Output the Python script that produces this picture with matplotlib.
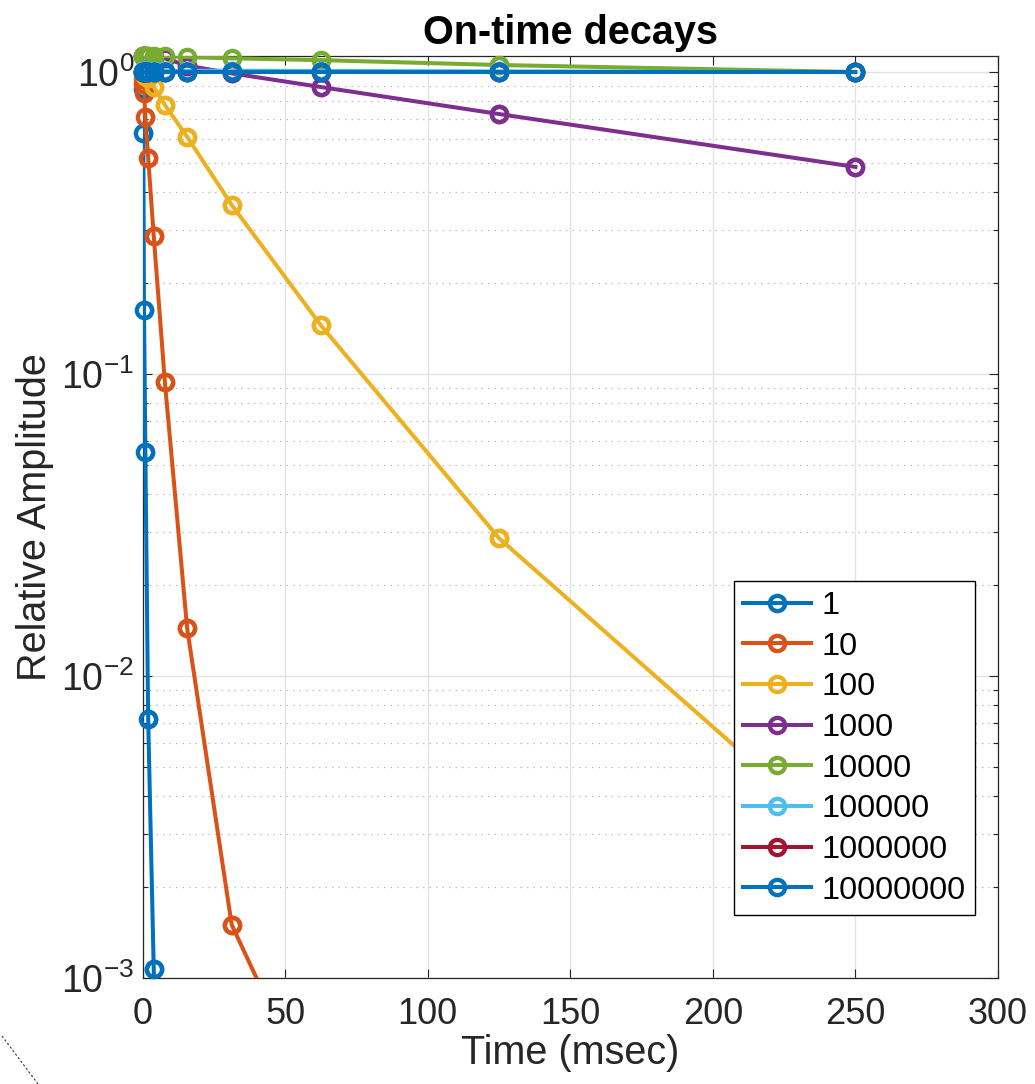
import matplotlib
matplotlib.use('Agg')
import matplotlib.pyplot as plt
import numpy as np
from matplotlib.ticker import LogLocator, NullFormatter, NullLocator
from matplotlib.lines import Line2D

plt.rcParams['font.family'] = ['Liberation Sans', 'DejaVu Sans']
plt.rcParams['mathtext.fontset'] = 'custom'
plt.rcParams['mathtext.rm'] = 'Liberation Sans'
plt.rcParams['mathtext.it'] = 'Liberation Sans:italic'
plt.rcParams['mathtext.bf'] = 'Liberation Sans:bold'

# ---------------- data ----------------
time_ms = [0.1220703125, 0.244140625, 0.48828125, 0.9765625, 1.953125, 3.90625,
           7.8125, 15.625, 31.25, 62.5, 125.0, 250.0]

amp_1 = [0.88, 0.63, 0.163, 0.055, 0.0072, 0.00107, 1e-5, 1e-7, 1e-9, 1e-11, 1e-13, 1e-15]
amp_10 = [0.95, 0.91, 0.85, 0.71, 0.52, 0.287, 0.094, 0.0144, 0.0015, 3.5e-4, 1e-6, 1e-9]
amp_100 = [1.0, 0.995, 0.985, 0.97, 0.955, 0.894, 0.778, 0.61, 0.363, 0.145, 0.0286, 0.0026]
amp_1000 = [1.13, 1.13, 1.13, 1.13, 1.13, 1.125, 1.11, 1.05, 0.99, 0.892, 0.726, 0.485]
amp_10000 = [1.13, 1.13, 1.13, 1.13, 1.13, 1.13, 1.13, 1.12, 1.11, 1.095, 1.055, 1.0]
amp_100000 = [1.01, 1.01, 1.01, 1.01, 1.01, 1.01, 1.01, 1.01, 1.01, 1.008, 1.005, 1.0]
amp_1000000 = [1.0, 1.0, 1.0, 1.0, 1.0, 1.0, 1.0, 1.0, 1.0, 1.0, 1.0, 1.0]
amp_10000000 = [1.0, 1.0, 1.0, 1.0, 1.0, 1.0, 1.0, 1.0, 1.0, 1.0, 1.0, 1.0]

series_labels = ['1', '10', '100', '1000', '10000', '100000', '1000000', '10000000']
series_values = [amp_1, amp_10, amp_100, amp_1000, amp_10000, amp_100000,
                 amp_1000000, amp_10000000]
series_colors = ['#0072BD', '#D95319', '#EDB120', '#7E2F8E', '#77AC30',
                 '#4DBEEE', '#A2142F', '#0072BD']

x_ticks = [0, 50, 100, 150, 200, 250, 300]
y_ticks = [1e-3, 1e-2, 1e-1, 1e0]
y_tick_labels = [r'$\mathregular{10^{-3}}$', r'$\mathregular{10^{-2}}$',
                 r'$\mathregular{10^{-1}}$', r'$\mathregular{10^{0}}$']
x_limits = (0, 300)
y_limits = (1e-3, 1.13)

title_text = 'On-time decays'
x_label = 'Time (msec)'
y_label = 'Relative Amplitude'

# ---------------- figure ----------------
W, H = 1035, 1084
fig = plt.figure(figsize=(W / 100, H / 100), dpi=100)
left, right, bottom, top = 142.6, 998, 978, 56
ax = fig.add_axes([left / W, 1 - bottom / H, (right - left) / W, (bottom - top) / H])

axis_col = '#262626'
lw = 2.9
ms = 11
mew = 3.1
t = np.array(time_ms)
for i, (lab, vals, col) in enumerate(zip(series_labels, series_values, series_colors)):
    v = np.array(vals)
    ax.plot(t, v, '-o', color=col, lw=lw, ms=ms, mew=mew, mfc='none',
            label=lab, zorder=3 + i)
    inside = (v >= y_limits[0] * 0.999) & (v <= y_limits[1] * 1.001)
    ax.plot(t[inside], v[inside], 'o', color=col, ms=ms, mew=mew, mfc='none',
            clip_on=False, zorder=3 + i)

ax.set_yscale('log')
ax.set_xlim(*x_limits)
ax.set_ylim(*y_limits)
ax.set_xticks(x_ticks)
ax.set_xticklabels([str(v) for v in x_ticks])
ax.set_yticks(y_ticks)
ax.set_yticklabels(y_tick_labels)
ax.yaxis.set_minor_locator(LogLocator(base=10, subs=np.arange(2, 10)))
ax.yaxis.set_minor_formatter(NullFormatter())
ax.xaxis.set_minor_locator(NullLocator())

ax.set_axisbelow(True)
ax.grid(True, which='major', color='#e3e3e3', lw=1.0, ls='-')
ax.grid(True, which='minor', axis='y', color='#bdbdbd', lw=0.9, ls=(0, (1.2, 4)))

ax.tick_params(which='both', direction='in', top=True, right=True,
               colors=axis_col, width=0.8, labelsize=26)
ax.tick_params(which='major', length=6.5, pad=14)
ax.tick_params(axis='y', which='major', pad=6, labelsize=27)
ax.tick_params(which='minor', length=3.5)
for s in ax.spines.values():
    s.set_color(axis_col)
    s.set_linewidth(0.9)

ax.set_title(title_text, fontsize=28.5, fontweight='bold', pad=9, color='black')
ax.set_xlabel(x_label, fontsize=28.5, color=axis_col, labelpad=1)
ax.set_ylabel(y_label, fontsize=28.5, color=axis_col, labelpad=5)

leg = ax.legend(loc='lower right', bbox_to_anchor=(0.973, 0.068), borderaxespad=0,
                fontsize=23.3, frameon=True, fancybox=False, framealpha=1,
                edgecolor='black', handlelength=2.1, handletextpad=0.3,
                labelspacing=0.33, borderpad=0.3)
leg.get_frame().set_linewidth(1.0)
leg.set_zorder(20)

# small dashed mark in the lower-left corner of the picture
fig.add_artist(Line2D([2 / W, 38 / W], [1 - 1036 / H, 0.0], transform=fig.transFigure,
                      color='#333333', lw=0.8, ls=(0, (2, 2))))

fig.savefig('out.png', dpi=100)
